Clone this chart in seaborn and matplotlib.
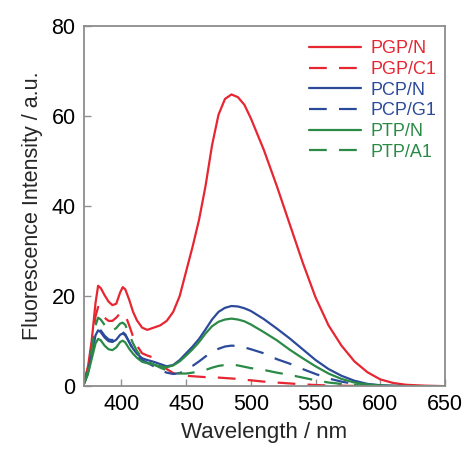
import matplotlib
matplotlib.use("Agg")
import matplotlib.pyplot as plt
import pandas as pd
import seaborn as sns

# --- Data ---
wavelength = [371, 374, 377, 380, 382, 384, 387, 390, 393, 396, 399, 401, 403, 406,
              409, 412, 416, 420, 425, 430, 435, 440, 445, 450, 455, 460, 465, 470,
              475, 480, 485, 490, 495, 500, 510, 520, 530, 540, 550, 560, 570, 580,
              590, 600, 610, 620, 635, 650]

pgp_n = [0.8, 4.0, 10.0, 18.5, 22.3, 21.8, 20.2, 18.8, 18.0, 18.3, 20.8, 22.0, 21.5, 19.2,
         16.5, 14.6, 13.0, 12.5, 13.0, 13.5, 14.5, 16.5, 20.0, 25.5, 31.0, 37.0, 44.5, 53.5,
         60.3, 63.8, 64.8, 64.2, 62.5, 59.5, 52.5, 44.5, 36.0, 27.5, 19.7, 13.5, 9.0, 5.5,
         3.1, 1.5, 0.7, 0.3, 0.1, 0.0]

pgp_c1 = [0.8, 4.0, 9.0, 15.5, 17.6, 17.0, 15.2, 14.5, 14.5, 15.2, 16.2, 16.3, 15.8, 13.5,
          11.0, 9.0, 7.3, 6.8, 6.3, 5.0, 3.8, 2.9, 2.5, 2.3, 2.2, 2.1, 2.0, 2.0,
          1.9, 1.8, 1.7, 1.6, 1.4, 1.3, 1.0, 0.8, 0.6, 0.4, 0.25, 0.15, 0.1, 0.05,
          0.0, 0.0, 0.0, 0.0, 0.0, 0.0]

pcp_n = [0.5, 3.0, 7.0, 11.3, 12.4, 12.0, 10.8, 10.0, 9.8, 10.3, 11.4, 11.7, 11.3, 9.8,
         8.3, 7.2, 6.2, 5.8, 5.4, 4.9, 4.4, 4.7, 5.8, 7.3, 8.8, 10.5, 12.6, 14.8,
         16.5, 17.4, 17.8, 17.7, 17.3, 16.7, 14.9, 12.8, 10.6, 8.2, 5.8, 3.8, 2.3, 1.2,
         0.5, 0.2, 0.1, 0.0, 0.0, 0.0]

pcp_g1 = [0.5, 3.0, 7.5, 11.8, 12.8, 12.4, 11.2, 10.4, 10.2, 10.8, 11.8, 12.0, 11.5, 9.8,
          8.0, 6.8, 5.8, 5.2, 4.4, 3.5, 3.0, 2.7, 2.9, 3.6, 4.5, 5.5, 6.6, 7.6,
          8.3, 8.8, 9.0, 8.9, 8.6, 8.2, 7.3, 6.0, 5.0, 3.8, 2.7, 1.7, 1.0, 0.5,
          0.2, 0.1, 0.0, 0.0, 0.0, 0.0]

ptp_n = [0.4, 2.5, 6.0, 9.5, 10.5, 10.2, 9.0, 8.2, 8.0, 8.6, 9.8, 10.1, 9.7, 8.3,
         7.2, 6.3, 5.4, 5.1, 4.8, 4.4, 4.2, 4.6, 5.5, 6.8, 8.2, 9.8, 11.7, 13.3,
         14.3, 14.8, 15.0, 14.8, 14.4, 13.7, 12.0, 10.2, 8.1, 6.2, 4.4, 2.8, 1.6, 0.8,
         0.4, 0.15, 0.05, 0.0, 0.0, 0.0]

ptp_a1 = [0.5, 3.0, 8.0, 13.5, 15.2, 14.8, 13.6, 12.6, 12.3, 12.9, 13.9, 14.1, 13.6, 11.5,
          9.5, 7.8, 6.3, 5.5, 4.8, 4.1, 3.5, 3.0, 2.8, 2.8, 3.0, 3.3, 3.6, 4.1,
          4.5, 4.7, 4.8, 4.6, 4.3, 4.0, 3.6, 3.0, 2.5, 1.9, 1.3, 0.8, 0.5, 0.25,
          0.1, 0.0, 0.0, 0.0, 0.0, 0.0]

series_names = ["PGP/N", "PGP/C1", "PCP/N", "PCP/G1", "PTP/N", "PTP/A1"]
series_values = [pgp_n, pgp_c1, pcp_n, pcp_g1, ptp_n, ptp_a1]

RED, BLUE, GREEN = "#e62631", "#2c4a9a", "#2a8a46"
colors = [RED, RED, BLUE, BLUE, GREEN, GREEN]
dashed = [False, True, False, True, False, True]

sns.set_theme(style="white")
plt.rcParams["font.family"] = ["Liberation Sans", "DejaVu Sans"]

fig = plt.figure(figsize=(4.66, 4.49), dpi=100)
ax = fig.add_axes([0.180, 0.140, 0.775, 0.802])

for name, vals, col, dsh in zip(series_names, series_values, colors, dashed):
    df = pd.DataFrame({"wl": wavelength, "val": vals})
    sns.lineplot(data=df, x="wl", y="val", ax=ax, color=col, linewidth=1.6,
                 label=name, sort=False)
    if dsh:
        ax.lines[-1].set_dashes([8, 5.5])

ax.set_xlim(371, 650)
ax.set_ylim(0, 80)
ax.set_xticks([400, 450, 500, 550, 600, 650])
ax.set_yticks([0, 20, 40, 60, 80])
ax.tick_params(direction="in", length=5, width=1, color="#909090",
               labelsize=15.5, labelcolor="black", pad=6,
               left=True, bottom=True, top=False, right=False)
for sp in ax.spines.values():
    sp.set_color("#8c8c8c")
    sp.set_linewidth(1.3)

ax.set_xlabel("Wavelength / nm", fontsize=16, labelpad=5)
ax.set_ylabel("Fluorescence Intensity / a.u.", fontsize=15.5, labelpad=6)

leg = ax.legend(loc="upper right", frameon=False, fontsize=13, handlelength=2.9,
                handletextpad=0.5, labelspacing=0.2, borderaxespad=0.1,
                labelcolor="linecolor", bbox_to_anchor=(1.0, 0.985))

fig.savefig("out.png", dpi=100)
